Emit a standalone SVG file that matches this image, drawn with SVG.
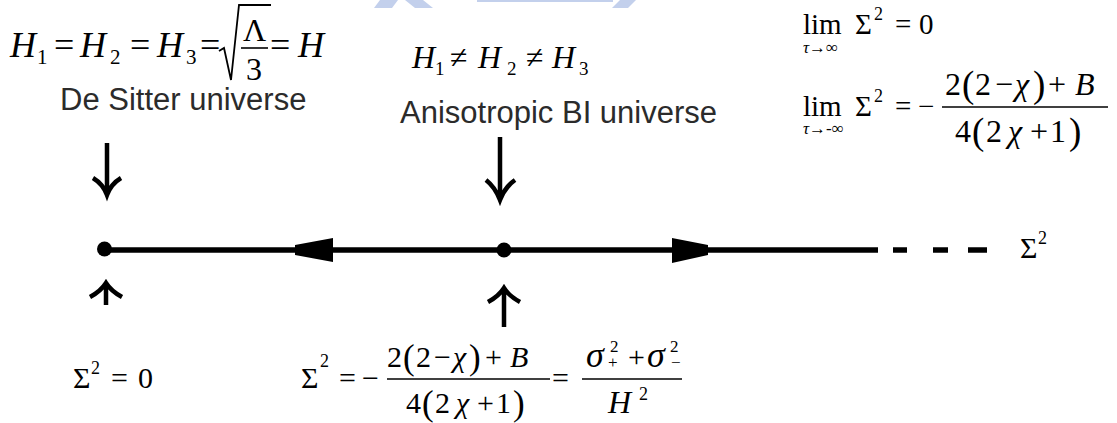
<svg xmlns="http://www.w3.org/2000/svg" width="1117" height="423" viewBox="0 0 1117 423">
<defs>
<style>
.m{font-family:"Liberation Serif","Times New Roman",serif;fill:#000}
.i{font-style:italic}
.lbl{font-family:"Liberation Sans",Arial,sans-serif;font-size:31px;fill:#2b2b2b}
.ax{stroke:#000;stroke-width:5.5;fill:none}
.arr{stroke:#000;stroke-width:4.5;fill:none;stroke-linecap:butt;stroke-linejoin:miter}
.bar{stroke:#000;stroke-width:1.6}
.wm{fill:#c3d0ec}
</style>
</defs>
<rect width="1117" height="423" fill="#fff"/>
<g id="watermark">
<polygon class="wm" points="380,0 398,0 392,8 374,8"/>
<polygon class="wm" points="405,0 423,0 433,8 415,8"/>
<rect class="wm" x="477" y="0" width="136" height="2"/>
<polygon class="wm" points="620,0 636,0 628,8 612,8"/>
</g>
<g id="connectors">
<line class="ax" x1="104" y1="250" x2="878" y2="250"/>
<line class="ax" x1="893" y1="250" x2="907" y2="250"/>
<line class="ax" x1="933" y1="250" x2="948" y2="250"/>
<line class="ax" x1="968" y1="250" x2="987" y2="250"/>
<polygon points="295,245 333,238 333,262 295,255" fill="#000"/>
<polygon points="672,238 708,245 708,255 672,263" fill="#000"/>
<path class="arr" d="M107,143 V194 M93,178 Q103,184 107,195 Q111,184 121,178"/>
<path class="arr" d="M500,137 V199 M486,180 Q495,187 500,200 Q505,187 515,180"/>
<path class="arr" d="M106,305 V285 M90,297 Q101,291 106,283 Q111,291 122,297"/>
<path class="arr" d="M504,327 V290 M488,302 Q499,296 504,288 Q509,296 520,302"/>
</g>
<g id="node-desitter">
<circle cx="104.5" cy="249" r="7.5" fill="#000"/>
<text class="m" font-size="36" y="57"><tspan class="i" x="10">H</tspan><tspan x="54">=</tspan><tspan class="i" x="80">H</tspan><tspan x="130">=</tspan><tspan class="i" x="157">H</tspan><tspan x="200">=</tspan><tspan x="270">=</tspan><tspan class="i" x="298">H</tspan></text>
<text class="m" font-size="21" y="64"><tspan x="37">1</tspan><tspan x="110">2</tspan><tspan x="186">3</tspan></text>
<path d="M219,51 L224,48 L231,80 L239,5 L271,5" stroke="#000" stroke-width="1.8" fill="none"/>
<text class="m" font-size="32" x="243" y="41">Λ</text>
<line class="bar" x1="241" y1="48" x2="268" y2="48"/>
<text class="m" font-size="32" x="246" y="80">3</text>
<text class="lbl" x="60" y="110">De Sitter universe</text>
<text class="m" font-size="30" y="388"><tspan x="73">Σ</tspan><tspan x="111">=</tspan><tspan x="138">0</tspan></text>
<text class="m" font-size="18" x="91" y="374">2</text>
</g>
<g id="node-bianchi">
<circle cx="504" cy="250" r="7.5" fill="#000"/>
<text class="m" font-size="32" y="68"><tspan class="i" x="412">H</tspan><tspan x="450">≠</tspan><tspan class="i" x="478">H</tspan><tspan x="526">≠</tspan><tspan class="i" x="552">H</tspan></text>
<text class="m" font-size="19" y="75"><tspan x="435">1</tspan><tspan x="507">2</tspan><tspan x="579">3</tspan></text>
<text class="lbl" x="400" y="123">Anisotropic BI universe</text>
<text class="m" font-size="30" y="388"><tspan x="301">Σ</tspan><tspan x="339">=</tspan><tspan x="362">−</tspan></text>
<text class="m" font-size="18" x="320" y="367">2</text>
<text class="m" font-size="30" y="367"><tspan x="387">2</tspan><tspan x="416">2</tspan><tspan x="434">−</tspan><tspan class="i" x="453">χ</tspan><tspan x="485">+</tspan><tspan class="i" x="510">B</tspan></text>
<text class="m" font-size="35" y="369"><tspan x="403">(</tspan><tspan x="469">)</tspan></text>
<line class="bar" x1="387" y1="379" x2="550" y2="379"/>
<text class="m" font-size="30" y="413"><tspan x="406">4</tspan><tspan x="435">2</tspan><tspan class="i" x="456">χ</tspan><tspan x="477">+</tspan><tspan x="496">1</tspan></text>
<text class="m" font-size="35" y="415"><tspan x="422">(</tspan><tspan x="513">)</tspan></text>
<text class="m" font-size="30" x="552" y="388">=</text>
<text class="m i" font-size="36" y="367"><tspan x="586">σ</tspan><tspan x="647">σ</tspan></text>
<text class="m" font-size="30" x="628" y="367">+</text>
<text class="m" font-size="17" y="352"><tspan x="610">2</tspan><tspan x="670">2</tspan></text>
<text class="m" font-size="17" y="368"><tspan x="608">+</tspan><tspan x="671">−</tspan></text>
<line class="bar" x1="582" y1="379" x2="682" y2="379"/>
<text class="m i" font-size="32" x="608" y="413">H</text>
<text class="m" font-size="18" x="639" y="400">2</text>
</g>
<g id="node-axis-label">
<text class="m" font-size="30" x="1020" y="258">Σ</text>
<text class="m" font-size="18" x="1038" y="244">2</text>
</g>
<g id="node-limits">
<text class="m" font-size="29" y="34"><tspan x="803">lim</tspan><tspan x="855">Σ</tspan><tspan x="895">=</tspan><tspan x="919">0</tspan></text>
<text class="m" font-size="18" x="874" y="20">2</text>
<text class="m" font-size="17" x="803" y="53"><tspan class="i">τ</tspan>→∞</text>
<text class="m" font-size="29" y="116"><tspan x="803">lim</tspan><tspan x="855">Σ</tspan><tspan x="895">=</tspan><tspan x="918">−</tspan></text>
<text class="m" font-size="18" x="874" y="102">2</text>
<text class="m" font-size="17" x="803" y="134"><tspan class="i">τ</tspan>→-∞</text>
<text class="m" font-size="32" y="95"><tspan x="945">2</tspan><tspan x="975">2</tspan><tspan x="995">−</tspan><tspan class="i" x="1015">χ</tspan><tspan x="1048">+</tspan><tspan class="i" x="1075">B</tspan></text>
<text class="m" font-size="37" y="97"><tspan x="962">(</tspan><tspan x="1033">)</tspan></text>
<line class="bar" x1="942" y1="107" x2="1108" y2="107"/>
<text class="m" font-size="32" y="142"><tspan x="955">4</tspan><tspan x="986">2</tspan><tspan class="i" x="1008">χ</tspan><tspan x="1030">+</tspan><tspan x="1050">1</tspan></text>
<text class="m" font-size="37" y="144"><tspan x="972">(</tspan><tspan x="1069">)</tspan></text>
</g>
</svg>
